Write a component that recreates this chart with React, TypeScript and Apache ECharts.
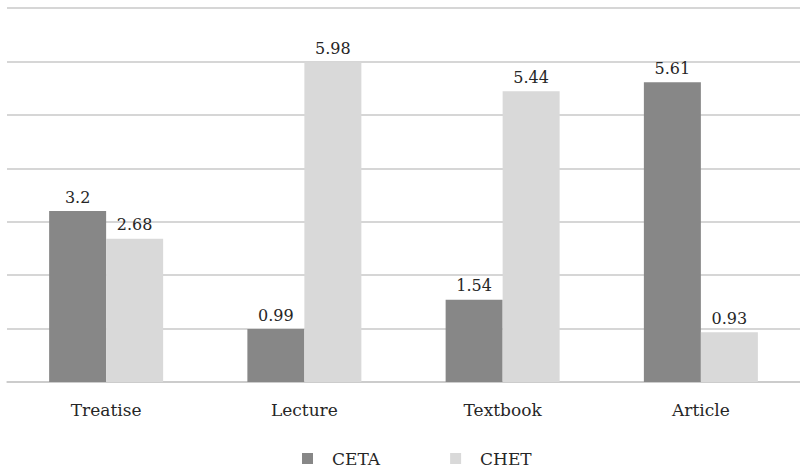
import React, { useEffect, useRef } from "react";
import * as echarts from "echarts";

const categories = ["Treatise", "Lecture", "Textbook", "Article"];
const cetaValues = [3.2, 0.99, 1.54, 5.61];
const chetValues = [2.68, 5.98, 5.44, 0.93];

const FONT = "DejaVu Serif";
const TEXT_COLOR = "#262626";
const GRID_COLOR = "#c9c9c9";

export default function App() {
  const ref = useRef<HTMLDivElement>(null);

  useEffect(() => {
    if (!ref.current) return;
    const chart = echarts.init(ref.current, undefined, { renderer: "svg" });
    const label = {
      show: true,
      position: "top" as const,
      distance: 6,
      color: TEXT_COLOR,
      fontFamily: FONT,
      fontSize: 16,
    };
    chart.setOption({
      animation: false,
      textStyle: { fontFamily: FONT },
      grid: { left: 7, right: 0, top: 8, bottom: 89 },
      legend: {
        left: 302,
        top: 450,
        padding: 0,
        itemWidth: 11,
        itemHeight: 11,
        itemGap: 70,
        icon: "rect",
        textStyle: {
          fontFamily: FONT,
          fontSize: 17,
          lineHeight: 17,
          color: TEXT_COLOR,
          padding: [0, 0, 0, 14],
        },
        data: ["CETA", "CHET"],
      },
      xAxis: {
        type: "category",
        data: categories,
        axisLine: { lineStyle: { color: GRID_COLOR, width: 1.5 } },
        axisTick: { show: false },
        axisLabel: {
          fontFamily: FONT,
          fontSize: 17,
          color: TEXT_COLOR,
          margin: 19,
        },
      },
      yAxis: {
        type: "value",
        min: 0,
        max: 7,
        interval: 1,
        axisLabel: { show: false },
        axisLine: { show: false },
        axisTick: { show: false },
        splitLine: { lineStyle: { color: GRID_COLOR, width: 1.5 } },
      },
      series: [
        {
          name: "CETA",
          type: "bar",
          data: cetaValues,
          barWidth: 57,
          barGap: "0%",
          itemStyle: { color: "#878787" },
          label,
        },
        {
          name: "CHET",
          type: "bar",
          data: chetValues,
          barWidth: 57,
          barGap: "0%",
          itemStyle: { color: "#d9d9d9" },
          label,
        },
      ],
    });
    return () => chart.dispose();
  }, []);

  return (
    <div
      ref={ref}
      style={{ position: "absolute", left: 0, top: 0, width: 800, height: 471 }}
    />
  );
}
